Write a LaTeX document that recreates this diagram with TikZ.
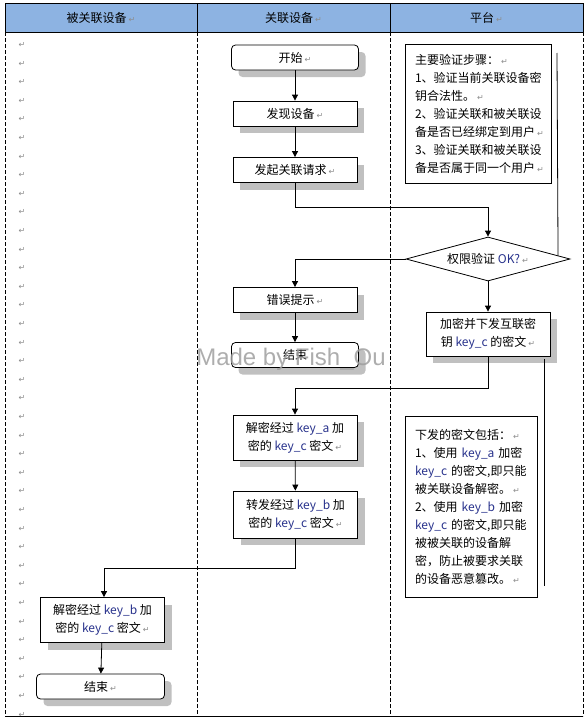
\documentclass[tikz,border=0pt]{standalone}
\usepackage{fontspec}
\setmainfont{Noto Sans CJK SC}
\newfontfamily\symfont{DejaVu Sans}
\newfontfamily\markfont{Liberation Sans}
\usetikzlibrary{arrows.meta,shapes.geometric,shadows,calc}
\definecolor{lanehead}{RGB}{141,179,226}
\definecolor{shade}{RGB}{192,192,192}
\definecolor{keytext}{RGB}{40,50,140}
\definecolor{retmark}{RGB}{140,140,140}
\newcommand\retglyph{{\symfont\fontsize{8}{8}\selectfont\color{retmark}↵}}
\newcommand\ret{\,\retglyph}
\newcommand\kw[1]{\textcolor{keytext}{#1}}
\tikzset{
	stepbox/.style={draw,line width=0.8pt,fill=white,minimum width=124pt,minimum height=25pt,inner sep=2pt,align=center,drop shadow={shadow xshift=7pt,shadow yshift=-7pt,fill=shade,opacity=1}},
	endbox/.style={stepbox,rounded corners=4pt,minimum width=127pt},
	notebox/.style={draw,line width=0.8pt,fill=white,align=left,inner xsep=10pt,inner ysep=0pt},
	checkbox/.style={draw,diamond,line width=0.8pt,fill=white,aspect=3.7,minimum width=164pt,minimum height=44pt,inner sep=0pt},
	arr/.style={line width=0.8pt,-{Triangle[length=6pt,width=6pt]}},
	lane/.style={line width=0.8pt,dash pattern=on 4pt off 2pt},
}
\begin{document}
\begin{tikzpicture}[x=1pt,y=-1pt,every node/.style={font=\fontsize{12}{18}\selectfont}]
	\useasboundingbox (0,0) rectangle (588,720);
	% lanes
	\fill[lanehead] (5,3) rectangle (583,32);
	\draw[line width=0.8pt] (5,3) rectangle (583,32);
	\draw[line width=0.8pt] (197,3) -- (197,32) (390,3) -- (390,32);
	\foreach \x in {5,197,390,583}
		\draw[lane] (\x,32) -- (\x,716);
	\draw[line width=0.8pt] (5,716) -- (583,716);
	\node (h1) at (101,17.5) {被关联设备\ret};
	\node (h2) at (293.5,17.5) {关联设备\ret};
	\node (h3) at (486.5,17.5) {平台\ret};
	\foreach \i in {0,...,36}
		\node[inner sep=0pt] (lm\i) at (22,{45+18.6*\i}) {\retglyph};
	% flow
	\node[endbox] (start) at (295,57.5) {开始\ret};
	\node[stepbox] (find) at (295,113.5) {发现设备\ret};
	\node[stepbox] (req) at (295,170) {发起关联请求\ret};
	\node[checkbox] (chk) at (488,259) {权限验证 \kw{OK?}\ret};
	\node[stepbox] (err) at (295,300) {错误提示\ret};
	\node[endbox] (stopm) at (295,355) {结束};
	\node[stepbox,minimum height=44pt] (enc) at (488,334) {加密并下发互联密\\钥 \kw{key\_c} 的密文\ret};
	\node[stepbox,minimum height=45pt] (deca) at (295,437.5) {解密经过 \kw{key\_a} 加\\密的 \kw{key\_c} 密文\ret};
	\node[stepbox,minimum height=47pt] (fwd) at (295.5,514.5) {转发经过 \kw{key\_b} 加\\密的 \kw{key\_c} 密文\ret};
	\node[stepbox,minimum height=45pt] (decb) at (102.5,620) {解密经过 \kw{key\_b} 加\\密的 \kw{key\_c} 密文\ret};
	\node[endbox,minimum width=128pt] (stopl) at (100.5,686.5) {结束\ret};
	% notes
	\node[notebox,text width=126pt,minimum height=139pt] (note1) at (478,113.5) {主要验证步骤：\ret\\1、验证当前关联设备密\\钥合法性。\ret\\2、验证关联和被关联设\\备是否已经绑定到用户\ret\\3、验证关联和被关联设\\备是否属于同一个用户\ret};
	\node[notebox,text width=112pt,minimum height=181pt] (note2) at (471,506.5) {下发的密文包括：\ret\\1、使用 \kw{key\_a} 加密\\\kw{key\_c} 的密文,即只能\\被关联设备解密。\ret\\2、使用 \kw{key\_b} 加密\\\kw{key\_c} 的密文,即只能\\被被关联的设备解\\密，防止被要求关联\\的设备恶意篡改。\ret};
	% connectors
	\draw[arr] (start) -- (find);
	\draw[arr] (find) -- (req);
	\draw[arr] (req.south) -- ++(0,24) -| (chk.north);
	\draw[arr] (chk.west) -| (err.north);
	\draw[arr] (err) -- (stopm);
	\draw[arr] (chk) -- (enc);
	\draw[arr] (enc.south) -- ++(0,32) -| (deca.north);
	\draw[arr] (deca) -- (fwd);
	\draw[arr] (fwd.south) -- ++(0,30) -| ([xshift=1.5pt]decb.north);
	\draw[arr] (decb) -- (stopl);
	\coordinate (t1) at (557,53);
	\draw[line width=0.8pt] (t1) -- ($(chk.east)!0.15!(chk.north)$);
	\coordinate (t2) at (544,586);
	\draw[line width=0.8pt] (enc.south -| t2) ++(0,3) -- (t2);
	\node[font=\markfont\fontsize{24}{24}\selectfont,text=gray!75,opacity=0.85] (mark) at (291,359.5) {Made by Fish\_Ou};
\end{tikzpicture}
\end{document}
